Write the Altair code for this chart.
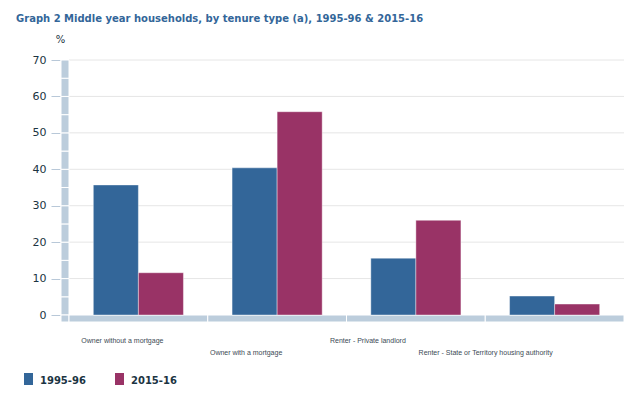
import altair as alt
import pandas as pd

categories = [
    "Owner without a mortgage",
    "Owner with a mortgage",
    "Renter - Private landlord",
    "Renter - State or Territory housing authority",
]
years = ["1995-96", "2015-16"]
values_1995 = [35.7, 40.4, 15.6, 5.2]
values_2015 = [11.6, 55.8, 26.0, 3.0]
y_ticks = [0, 10, 20, 30, 40, 50, 60, 70]
wall_steps = list(range(0, 70, 5))

W, H = 555, 255
BLUE, PLUM = "#336699", "#993366"
WALL = "#bccddc"
TXT = "#1b3442"

rows = []
for c, a, b in zip(categories, values_1995, values_2015):
    rows.append({"cat": c, "year": years[0], "value": a})
    rows.append({"cat": c, "year": years[1], "value": b})
bars_df = pd.DataFrame(rows)

yscale = alt.Scale(domain=[0, 70], nice=False, zero=True)
xscale = alt.Scale(domain=categories, paddingInner=0, paddingOuter=0)

y_axis = alt.Axis(values=y_ticks, title="%", grid=False, domain=False,
                  labelOverlap=False,
                  tickColor="#b8c8d8", tickSize=9, offset=9,
                  labelPadding=5, labelFontSize=11, labelColor=TXT,
                  labelFont="DejaVu Sans",
                  titleAngle=0, titleAlign="center", titleBaseline="middle",
                  titleX=0, titleY=-21, titleFontSize=10,
                  titleFontWeight="normal", titleFont="DejaVu Sans",
                  titleColor=TXT)

grid = alt.Chart(pd.DataFrame({"g": y_ticks[1:]})).mark_rule(
    color="#e6e6e6", strokeWidth=1
).encode(y=alt.Y("g:Q", scale=yscale, axis=y_axis))

wall_df = pd.DataFrame({"lo": wall_steps, "hi": [s + 5 for s in wall_steps]})
wall = alt.Chart(wall_df).mark_rect(
    fill=WALL, stroke="white", strokeWidth=1
).encode(
    x=alt.value(-8), x2=alt.value(0),
    y=alt.Y("lo:Q", scale=yscale, axis=y_axis), y2="hi:Q",
)
wall_base = alt.Chart(pd.DataFrame({"k": [0]})).mark_rect(
    fill=WALL, stroke="white", strokeWidth=1
).encode(x=alt.value(-8), x2=alt.value(0), y=alt.value(H), y2=alt.value(H + 7))

floor = alt.Chart(pd.DataFrame({"cat": categories})).mark_rect(
    fill=WALL, stroke="white", strokeWidth=1
).encode(
    x=alt.X("cat:N", sort=categories, scale=xscale, axis=None),
    y=alt.value(H), y2=alt.value(H + 7),
)

bars = alt.Chart(bars_df).mark_bar(
    stroke="white", strokeWidth=1, strokeOpacity=0.4
).encode(
    x=alt.X("cat:N", sort=categories, scale=xscale, axis=None),
    xOffset=alt.XOffset("year:N", sort=years,
                        scale=alt.Scale(paddingInner=0, paddingOuter=0.54)),
    y=alt.Y("value:Q", scale=yscale, axis=y_axis),
    color=alt.Color("year:N", sort=years,
                    scale=alt.Scale(domain=years, range=[BLUE, PLUM]),
                    legend=alt.Legend(title=None, orient="none", direction="horizontal",
                                      legendX=-48, legendY=313,
                                      symbolType="M-0.6,-1H0.6V1H-0.6Z",
                                      symbolSize=225, symbolStrokeWidth=0,
                                      labelFont="DejaVu Sans", labelFontSize=10,
                                      labelFontWeight="bold", labelColor=TXT,
                                      labelOffset=4, columnPadding=26)),
)

label_dx = [-16, -31, -48, -69]
label_layers = []
for i, c in enumerate(categories):
    label_layers.append(
        alt.Chart(pd.DataFrame({"cat": [c]})).mark_text(
            font="Liberation Sans", fontSize=7, color="#3c4a55",
            align="center", baseline="middle", dx=label_dx[i],
        ).encode(
            x=alt.X("cat:N", sort=categories, scale=xscale, axis=None),
            y=alt.value(281 + 12 * (i % 2)),
            text="cat:N",
        )
    )

chart = alt.layer(grid, wall, wall_base, floor, bars, *label_layers).properties(
    width=W, height=H,
    title=alt.Title(
        "Graph 2 Middle year households, by tenure type (a), 1995-96 & 2015-16",
        anchor="start", frame="group", dx=-53, offset=10,
        font="DejaVu Sans", fontSize=10, fontWeight="bold", color=BLUE,
    ),
    autosize=alt.AutoSizeParams(type="none"),
    padding={"left": 61, "top": 52, "right": 0, "bottom": 70},
).configure_view(stroke=None)

chart.save("out.html", embed_options={"renderer": "svg", "actions": False})
